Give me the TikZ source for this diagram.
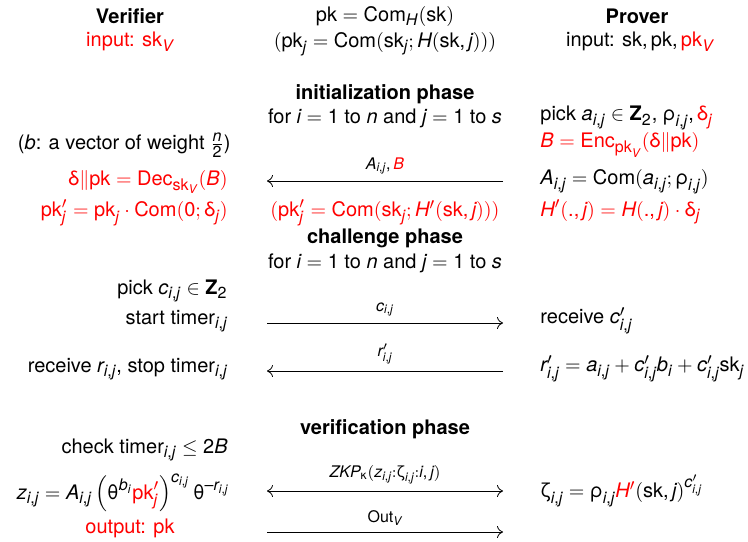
\documentclass[tikz,border=0pt]{standalone}
\usepackage{amsmath}
\usepackage{fontspec}
\setmainfont{TeX Gyre Heros}
\usepackage[italic]{mathastext}
\usepackage{tikz}
\usetikzlibrary{arrows.meta,positioning}
\newcommand{\pkey}{\mathrm{pk}}
\newcommand{\skey}{\mathrm{sk}}
\newcommand{\Comm}{\mathrm{Com}}
\newcommand{\rd}[1]{{\color{red}#1}}
\newcommand{\gdel}{\text{δ}}
\newcommand{\grho}{\text{ρ}}
\newcommand{\gthe}{\text{θ}}
\newcommand{\gzet}{\text{ζ}}
\newcommand{\gkap}{\text{κ}}
\newcommand{\dg}[1]{\mathrm{#1}}

\begin{document}
\begin{tikzpicture}[x=0.5pt, y=-0.5pt, every node/.style={font=\normalsize, inner sep=1pt},
    >={To[length=3pt,width=6pt]},
    vside/.style={anchor=east}, pside/.style={anchor=west},
    phase/.style={font=\normalsize\bfseries},
    msg/.style={thin},
    msglab/.style={font=\footnotesize, above=2pt}]
    \useasboundingbox (0,0) rectangle (748,541);
    % headers
    \node[phase] (ver) at (130,16) {Verifier};
    \node[red] (vin) at (130,42) {input: $\skey_V$};
    \node (pkdef) at (385,16) {$\pkey = \Comm_H(\skey)$};
    \node (pkj) at (385,44) {$(\pkey_j = \Comm(\skey_j; H(\skey,j)))$};
    \node[phase] (prv) at (637,16) {Prover};
    \node (pin) at (640,42) {input: $\skey,\pkey,\rd{\pkey_V}$};
    % initialization phase
    \node[phase] (init) at (385,94) {initialization phase};
    \node (forA) at (385,118) {for $i = \dg{1}$ to $n$ and $j = \dg{1}$ to $s$};
    \node[pside] (picka) at (538,118) {pick $a_{i,j}\in\mathbf{Z}_{\dg{2}}$, $\grho_{i,j},\rd{\gdel_j}$};
    \node[vside] (bvec) at (233,145) {($b$: a vector of weight $\frac{n}{\dg{2}}$)};
    \node[pside, red] (enc) at (538,145) {$B = \mathrm{Enc}_{\pkey_V}(\gdel\|\pkey)$};
    \node[vside, red] (dec) at (230,182) {$\gdel\|\pkey = \mathrm{Dec}_{\skey_V}(B)$};
    \node[pside] (acom) at (538,182) {$A_{i,j} = \Comm(a_{i,j};\grho_{i,j})$};
    \node[vside, red] (pkp) at (230,213) {$\pkey'_j = \pkey_j\cdot\Comm(\dg{0};\gdel_j)$};
    \node[red] (pkpj) at (385,213) {$(\pkey'_j = \Comm(\skey_j; H'(\skey,j)))$};
    \node[pside, red] (hp) at (538,212) {$H'(.,j) = H(.,j)\cdot\gdel_j$};
    % challenge phase
    \node[phase] (chal) at (385,238) {challenge phase};
    \node (forB) at (385,263) {for $i = \dg{1}$ to $n$ and $j = \dg{1}$ to $s$};
    \node[vside] (pickc) at (230,291) {pick $c_{i,j}\in\mathbf{Z}_{\dg{2}}$};
    \node[vside] (start) at (230,321) {start timer$_{i,j}$};
    \node[pside] (recc) at (538,321) {receive $c'_{i,j}$};
    \node[vside] (recr) at (230,369) {receive $r_{i,j}$, stop timer$_{i,j}$};
    \node[pside] (resp) at (538,369) {$r'_{i,j} = a_{i,j} + c'_{i,j}b_i + c'_{i,j}\skey_j$};
    % verification phase
    \node[phase] (verif) at (385,429) {verification phase};
    \node[vside] (check) at (230,450) {check timer$_{i,j}\leq \dg{2}B$};
    \node[vside, inner sep=0pt] (zval) at (230,493) {$z_{i,j} = A_{i,j}\left(\gthe^{b_i}\rd{\pkey'_j}\right)^{c_{i,j}}\gthe^{-r_{i,j}}$};
    \node[pside] (zeta) at (538,491) {$\gzet_{i,j} = \grho_{i,j}\rd{H'}(\skey,j)^{c'_{i,j}}$};
    \node[red] (out) at (130,528) {output: $\pkey$};
    % message lines
    \foreach \n/\y in {1/181, 2/323, 3/371, 4/491, 5/532} {
        \coordinate (v\n) at (267,\y);
        \coordinate (p\n) at (503,\y);
    }
    \draw[msg, ->] (p1) -- node[msglab] {$A_{i,j},\rd{B}$} (v1);
    \draw[msg, ->] (v2) -- node[msglab] {$c_{i,j}$} (p2);
    \draw[msg, ->] (p3) -- node[msglab] {$r'_{i,j}$} (v3);
    \draw[msg, <->] (v4) -- node[msglab] {$ZKP_{\gkap}(z_{i,j}{:}\gzet_{i,j}{:}i,j)$} (p4);
    \draw[msg, ->] (v5) -- node[msglab] {Out$_V$} (p5);
\end{tikzpicture}
\end{document}
